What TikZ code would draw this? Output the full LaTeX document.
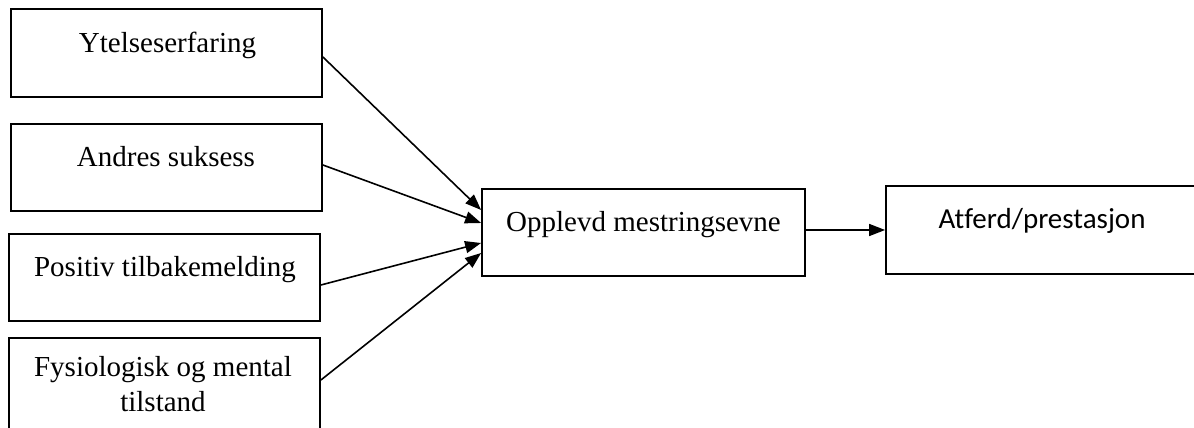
\documentclass[tikz,border=0pt]{standalone}
\usepackage{fontspec}
\setmainfont{Liberation Serif}
\newfontfamily\calib[Ligatures={NoCommon,NoRequired,NoContextual}]{Carlito}
\usetikzlibrary{arrows.meta,calc}
\begin{document}
\begin{tikzpicture}[x=1pt,y=1pt,
  box/.style={draw=black, line width=1.8pt, rectangle, inner sep=0pt},
  lbl/.style={font=\fontsize{29}{35}\selectfont, inner sep=0pt, anchor=base, align=center},
  arr/.style={line width=1.6pt, -{Triangle[length=16pt,width=12pt]}}]
\useasboundingbox (0,0) rectangle (1194,428);
\node[box, minimum width=311pt, minimum height=88pt] (b1) at (166.5,375) {};
\node[box, minimum width=311pt, minimum height=87pt] (b2) at (166.5,260.5) {};
\node[box, minimum width=311pt, minimum height=87pt] (b3) at (164.5,150.5) {};
\node[box, minimum width=311pt, minimum height=92pt] (b4) at (164.5,44) {};
\node[box, minimum width=323pt, minimum height=87pt] (mid) at (643.5,195.5) {};
\node[box, minimum width=314pt, minimum height=88pt] (res) at (1043,198) {};
\node[lbl] (t1) at (167.5,375) {Ytelseserfaring};
\node[lbl] (t2) at (166,261) {Andres suksess};
\node[lbl] (t3) at (165,151) {Positiv tilbakemelding};
\node[lbl] (t4a) at (163,51) {Fysiologisk og mental};
\node[lbl] (t4b) at (163,16) {tilstand};
\node[lbl] (tm) at (643.5,196) {Opplevd mestringsevne};
\node[lbl, font=\calib\fontsize{29}{35}\selectfont] (tr) at (1042,199) {Atferd/prestasjon};
\draw[arr] ([yshift=-4pt]b1.east) -- ([yshift=22.5pt]mid.west);
\draw[arr] ([yshift=2.5pt]b2.east) -- ([yshift=9.5pt]mid.west);
\draw[arr] ([yshift=-7.5pt]b3.east) -- ([yshift=-10.5pt]mid.west);
\draw[arr] ([yshift=4pt]b4.east) -- ([yshift=-20.5pt]mid.west);
\draw[arr] ([yshift=2.5pt]mid.east) -- (res.west);
\end{tikzpicture}
\end{document}
